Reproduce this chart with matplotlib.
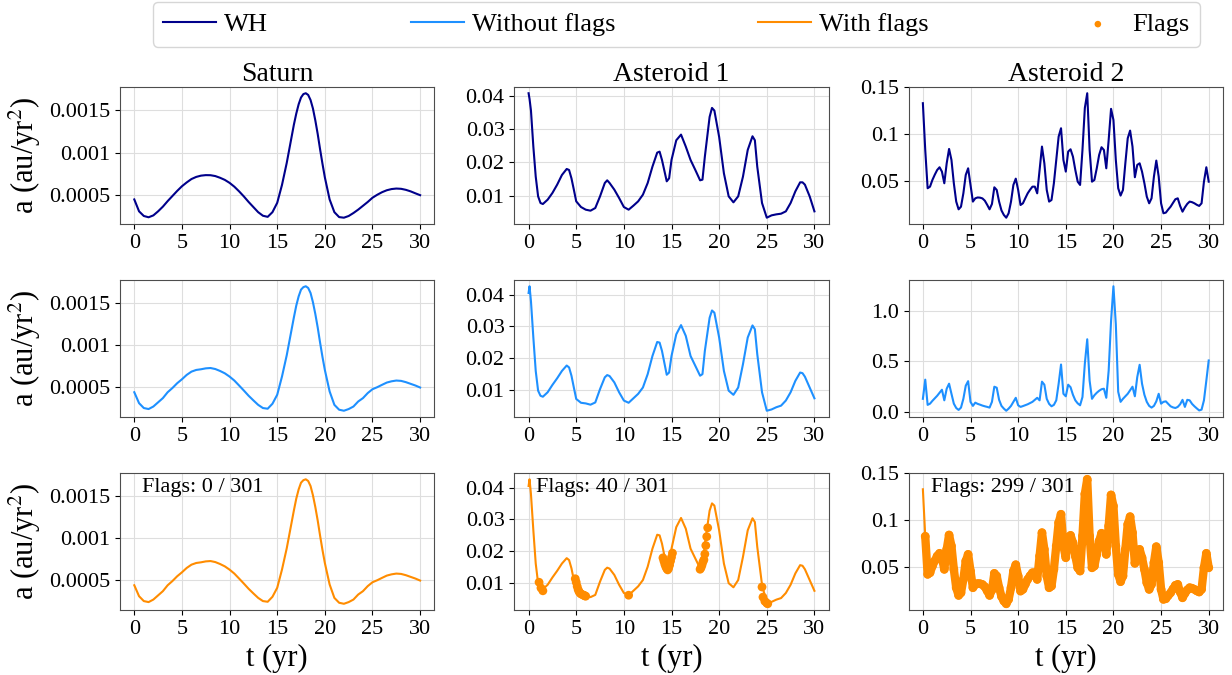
import numpy as np
import matplotlib
matplotlib.use("Agg")
import matplotlib.pyplot as plt
from matplotlib.ticker import FuncFormatter

plt.rcParams["font.family"] = ["Liberation Serif", "DejaVu Serif"]
plt.rcParams["mathtext.fontset"] = "stix"

# ---- data ----
titles = ["Saturn", "Asteroid 1", "Asteroid 2"]
flag_texts = ["Flags: 0 / 301", "Flags: 40 / 301", "Flags: 299 / 301"]
xticks = [0, 5, 10, 15, 20, 25, 30]
yticks = [
    [[0.0005, 0.001, 0.0015], [0.01, 0.02, 0.03, 0.04], [0.05, 0.1, 0.15]],
    [[0.0005, 0.001, 0.0015], [0.01, 0.02, 0.03, 0.04], [0.0, 0.5, 1.0]],
    [[0.0005, 0.001, 0.0015], [0.01, 0.02, 0.03, 0.04], [0.05, 0.1, 0.15]],
]

# finer sampling around the Saturn peak
sat_t = np.concatenate([np.arange(0, 16, 0.5), np.arange(16, 20, 0.25),
                        np.arange(20, 30.01, 0.5)])
sat_wh = [
    0.00045, 0.00031, 0.000255, 0.00024, 0.000262, 0.00031, 0.000365, 0.00043,
    0.00049, 0.00055, 0.000605, 0.00065, 0.00069, 0.000715, 0.00073, 0.000736,
    0.000735, 0.000725, 0.000705, 0.00068, 0.000645, 0.0006, 0.000545, 0.000485,
    0.00042, 0.00036, 0.0003, 0.000258, 0.000245, 0.0003, 0.00041, 0.00062,
    0.00088, 0.00103, 0.00118, 0.00133, 0.00146, 0.00157, 0.00165, 0.00169,
    0.0017, 0.00168, 0.00162, 0.00152, 0.00138, 0.00122, 0.00104, 0.00087,
    0.00071, 0.00045, 0.0003, 0.000242, 0.000235, 0.000255, 0.00029, 0.00033,
    0.000375, 0.00042, 0.00047, 0.000505, 0.000535, 0.000558, 0.000572, 0.000578,
    0.000575, 0.000563, 0.000545, 0.000522, 0.0005,
]
sat_adapt = [
    0.00044, 0.00031, 0.000252, 0.00024, 0.00027, 0.00032, 0.00037, 0.00044,
    0.00049, 0.000547, 0.000594, 0.000646, 0.000685, 0.000705, 0.000713, 0.000724,
    0.000728, 0.000716, 0.000693, 0.000665, 0.000626, 0.000579, 0.00052, 0.00046,
    0.000398, 0.000343, 0.00029, 0.000252, 0.000244, 0.000303, 0.00041, 0.000626,
    0.00088, 0.00103, 0.00118, 0.00133, 0.00147, 0.00158, 0.00166, 0.00169,
    0.0017, 0.00168, 0.00162, 0.00151, 0.00137, 0.00121, 0.00103, 0.00086,
    0.000705, 0.00045, 0.00029, 0.000232, 0.00022, 0.00024, 0.00027, 0.00033,
    0.00037, 0.00043, 0.000476, 0.0005, 0.000528, 0.000555, 0.00057, 0.000579,
    0.000575, 0.00056, 0.00054, 0.00052, 0.000496,
]

ast1_t = [
    0, 0.1, 0.25, 0.5, 0.75, 1.0, 1.25, 1.5, 2.0, 2.5, 3.0, 3.5, 4.0, 4.25, 4.5, 4.75,
    5.0, 5.5, 6.0, 6.5, 7.0, 7.5, 8.0, 8.25, 8.5, 9.0, 9.5, 10.0, 10.5, 11.0, 11.5,
    12.0, 12.5, 13.0, 13.5, 13.75, 14.0, 14.5, 14.75, 15.0, 15.5, 16.0, 16.5, 17.0,
    17.5, 18.0, 18.25, 18.5, 19.0, 19.25, 19.5, 20.0, 20.5, 21.0, 21.5, 22.0, 22.5,
    23.0, 23.5, 23.75, 24.0, 24.5, 25.0, 25.5, 26.0, 26.5, 27.0, 27.5, 28.0, 28.5,
    28.75, 29.0, 29.5, 30.0,
]
ast1_wh = [
    0.0407, 0.039, 0.0355, 0.0247, 0.0157, 0.0098, 0.0078, 0.0075, 0.0088, 0.0108,
    0.0133, 0.0162, 0.018, 0.0177, 0.0152, 0.0118,
    0.0083, 0.0066, 0.0058, 0.0055, 0.0063, 0.0098, 0.0138, 0.0146, 0.0138, 0.0118,
    0.0093, 0.0066, 0.0058, 0.007, 0.0083,
    0.0103, 0.0138, 0.0187, 0.0229, 0.0232, 0.0207, 0.0143, 0.0152, 0.0207, 0.0266,
    0.0283, 0.0247, 0.0207,
    0.0177, 0.0146, 0.0148, 0.0217, 0.0336, 0.0363, 0.0355, 0.0276, 0.0167, 0.0098,
    0.008, 0.0098, 0.0157,
    0.0237, 0.0278, 0.0266, 0.0187, 0.0078, 0.0034, 0.0041, 0.0044, 0.0046, 0.0053,
    0.0078, 0.0113, 0.014,
    0.014, 0.0133, 0.0098, 0.0053,
]
ast1_adapt = [
    0.0405, 0.0426, 0.0379, 0.0265, 0.016, 0.0098, 0.0082, 0.0079, 0.0093, 0.0116,
    0.0137, 0.016, 0.0177, 0.0171, 0.0145, 0.0108,
    0.0072, 0.006, 0.0058, 0.0054, 0.0061, 0.0103, 0.014, 0.0147, 0.0144, 0.0124,
    0.0093, 0.0067, 0.006, 0.0074, 0.0088,
    0.0108, 0.015, 0.0207, 0.0251, 0.0249, 0.0223, 0.0148, 0.0155, 0.0207, 0.0275,
    0.0304, 0.027, 0.0207,
    0.0176, 0.0145, 0.015, 0.0223, 0.0327, 0.035, 0.0343, 0.0265, 0.016, 0.0098,
    0.0085, 0.0108, 0.0181,
    0.0265, 0.0303, 0.0291, 0.0213, 0.0093, 0.0035, 0.0039, 0.0046, 0.0051, 0.0067,
    0.0093, 0.0129, 0.0155,
    0.0153, 0.0142, 0.0108, 0.0074,
]
ast1_flag_t = [
    1.1, 1.3, 1.5,
    4.9, 5.0, 5.1, 5.2, 5.3, 5.4, 5.5, 5.7, 5.8, 5.9, 6.0,
    10.5,
    14.1, 14.2, 14.3, 14.4, 14.5, 14.6, 14.7, 14.8, 14.9, 15.0, 15.1,
    18.0, 18.1, 18.2, 18.3, 18.4, 18.5, 18.6, 18.7, 18.8,
    24.5, 24.6, 24.8, 25.0, 25.1,
]
ast1_flag_a = [
    0.0101, 0.0083, 0.0074,
    0.0112, 0.0101, 0.0088, 0.0078, 0.0071, 0.0067, 0.0064, 0.0061, 0.006, 0.0058, 0.0057,
    0.006,
    0.0178, 0.0168, 0.0158, 0.015, 0.0144, 0.014, 0.0145, 0.0155, 0.0168, 0.018, 0.0193,
    0.0142, 0.0147, 0.0155, 0.0165, 0.0172, 0.019, 0.0217, 0.0245, 0.0273,
    0.0086, 0.0054, 0.0041, 0.0035, 0.0033,
]

ast2_t = np.linspace(0, 30, 121)
ast2_wh = [
    0.133, 0.083, 0.0426, 0.0443,
    0.0514, 0.057, 0.062, 0.0649,
    0.0603, 0.0479, 0.0691, 0.0844,
    0.0727, 0.0479, 0.0284, 0.0202,
    0.023, 0.0372, 0.0567, 0.0638,
    0.0461, 0.0284, 0.0319, 0.0328,
    0.0326, 0.0318, 0.0294, 0.025,
    0.0202, 0.0259, 0.0436, 0.0408,
    0.0284, 0.019, 0.0142, 0.0113,
    0.016, 0.0284, 0.0461, 0.0528,
    0.0408, 0.0248, 0.0266, 0.032,
    0.0372, 0.041, 0.0443, 0.0443,
    0.0372, 0.062, 0.0869, 0.0691,
    0.0408, 0.0284, 0.0301, 0.0479,
    0.0727, 0.0975, 0.1064, 0.0727,
    0.0603, 0.0816, 0.084, 0.0762,
    0.062, 0.0496, 0.0461, 0.0833,
    0.128, 0.1436, 0.0833, 0.0496,
    0.0514, 0.0638, 0.078, 0.0862,
    0.0833, 0.0638, 0.094, 0.127,
    0.1152, 0.0727, 0.0426, 0.0348,
    0.0408, 0.0691, 0.0957, 0.1039,
    0.0869, 0.0543, 0.0674, 0.0691,
    0.0603, 0.0479, 0.0337, 0.0266,
    0.0319, 0.055, 0.072, 0.055,
    0.0266, 0.016, 0.0167, 0.02,
    0.023, 0.027, 0.0309, 0.0319,
    0.0238, 0.0177, 0.0223, 0.026,
    0.0284, 0.0278, 0.0266, 0.025,
    0.0238, 0.0266, 0.0496, 0.0649,
    0.0496,
]
ast2_noflag = [
    0.13, 0.32, 0.07, 0.082,
    0.11, 0.135, 0.16, 0.19,
    0.22, 0.115, 0.23, 0.28,
    0.18, 0.082, 0.039, 0.02,
    0.043, 0.13, 0.26, 0.305,
    0.1, 0.06, 0.092, 0.08,
    0.072, 0.063, 0.056, 0.05,
    0.043, 0.1, 0.25, 0.24,
    0.12, 0.06, 0.033, 0.012,
    0.033, 0.06, 0.1, 0.14,
    0.066, 0.05, 0.058, 0.067,
    0.076, 0.088, 0.1, 0.12,
    0.14, 0.115, 0.3, 0.27,
    0.13, 0.08, 0.056, 0.07,
    0.115, 0.28, 0.47, 0.18,
    0.155, 0.27, 0.245, 0.17,
    0.115, 0.085, 0.066, 0.148,
    0.48, 0.72, 0.31, 0.13,
    0.165, 0.19, 0.21, 0.225,
    0.23, 0.14, 0.41, 0.9,
    1.245, 0.87, 0.2, 0.1,
    0.13, 0.155, 0.18, 0.215,
    0.25, 0.155, 0.345, 0.467,
    0.28, 0.17, 0.1, 0.06,
    0.043, 0.06, 0.105, 0.18,
    0.082, 0.1, 0.105, 0.08,
    0.056, 0.045, 0.039, 0.05,
    0.076, 0.12, 0.05, 0.12,
    0.115, 0.08, 0.056, 0.035,
    0.015, 0.023, 0.115, 0.31,
    0.51,
]

C_WH = "#00008b"
C_NOFLAG = "#1e90ff"
C_FLAG = "#ff8c00"

series = [
    [(sat_t, sat_wh), (ast1_t, ast1_wh), (ast2_t, ast2_wh)],
    [(sat_t, sat_adapt), (ast1_t, ast1_adapt), (ast2_t, ast2_noflag)],
    [(sat_t, sat_adapt), (ast1_t, ast1_adapt), (ast2_t, ast2_wh)],
]
row_colors = [C_WH, C_NOFLAG, C_FLAG]
row_labels = ["WH", "Without flags", "With flags"]
flags = [
    ([], []),
    (ast1_flag_t, ast1_flag_a),
    (ast2_t[1:], ast2_wh[1:]),
]

fig = plt.figure(figsize=(12.32, 6.75), dpi=100)
axs = fig.subplots(3, 3)
fig.subplots_adjust(left=0.0974, right=0.9927, top=0.8711, bottom=0.0963,
                    wspace=0.254, hspace=0.41)

fmt = FuncFormatter(lambda v, pos: "%g" % v)
handles = []
for r in range(3):
    for c in range(3):
        ax = axs[r, c]
        t, a = series[r][c]
        ln, = ax.plot(t, a, color=row_colors[r], lw=1.5, label=row_labels[r], zorder=2)
        if c == 0:
            handles.append(ln)
        if r == 2:
            ft, fa = flags[c]
            if c == 2:
                # almost every step is flagged: the dots merge into a thick band
                ax.plot(ft, fa, color=C_FLAG, lw=6, solid_joinstyle="round",
                        solid_capstyle="round", zorder=2.5)
            sc = ax.scatter(ft, fa, s=40, color=C_FLAG, zorder=3, label="Flags",
                            edgecolors="none")
            if c == 1:
                flag_handle = sc
            ax.text(0.07, 0.965, flag_texts[c], transform=ax.transAxes,
                    va="top", ha="left", fontsize=16)
            ax.set_xlabel("t (yr)", fontsize=22)
        if r == 0:
            ax.set_title(titles[c], fontsize=20, pad=4)
        if c == 0:
            ax.set_ylabel("a (au/yr$^2$)", fontsize=22)
        ax.set_xticks(xticks)
        ax.set_yticks(yticks[r][c])
        if not (r == 1 and c == 2):
            ax.yaxis.set_major_formatter(fmt)
        ax.tick_params(labelsize=16)
        ax.grid(True, color="0.87", lw=0.8)
        ax.set_axisbelow(True)
        for sp in ax.spines.values():
            sp.set_color("0.3")
handles.append(flag_handle)

fig.legend(handles, row_labels + ["Flags"], loc="upper left",
           bbox_to_anchor=(0.124, 0.997, 0.85, 0), mode="expand", ncol=4,
           fontsize=19, markerscale=0.75, borderaxespad=0, handlelength=2.0,
           handletextpad=0.3)

fig.savefig("out.png", dpi=100)
